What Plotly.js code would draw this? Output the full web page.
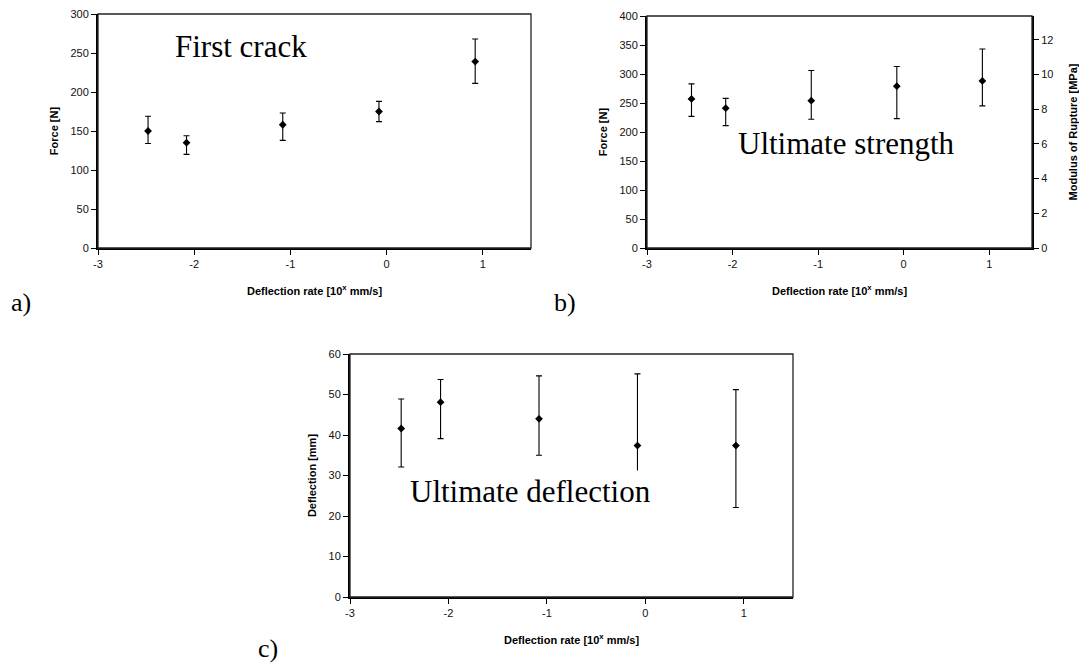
<!DOCTYPE html>
<html>
<head>
<meta charset="utf-8">
<script src="https://cdn.plot.ly/plotly-3.0.1.min.js"></script>
<style>html,body{margin:0;padding:0;background:#fff;}#chart{width:1079px;height:664px;}</style>
</head>
<body>
<div id="chart"></div>
<script>
// Deflection rate (log10 of mm/s)
var rate = [-2.48, -2.08, -1.08, -0.08, 0.92];
var xTicks = [-3, -2, -1, 0, 1];
var xTickLabels = ['-3', '-2', '-1', '0', '1'];

// a) First crack force [N]
var crackForce = [150, 135, 158, 175, 239];
var crackUpper = [169, 144, 173, 188, 268];
var crackLower = [134, 120, 138, 162, 211];

// b) Ultimate strength force [N]
var ultForce = [257, 241, 254, 279, 288];
var ultUpper = [283, 258, 306, 313, 343];
var ultLower = [227, 211, 222, 223, 245];

// c) Ultimate deflection [mm]
var ultDefl = [41.6, 48.1, 44.0, 37.4, 37.4];
var deflUpper = [48.9, 53.7, 54.6, 55.1, 51.2];
var deflLower = [32.1, 39.1, 35.0, 22.0, 22.1];

function diff(a, b) { return a.map(function (v, i) { return +(v - b[i]).toFixed(3); }); }

function trace(y, up, lo, xa, ya) {
  return {
    x: rate, y: y, xaxis: xa, yaxis: ya, type: 'scatter', mode: 'markers',
    marker: {symbol: 'diamond', size: 6, color: '#000'},
    error_y: {type: 'data', symmetric: false, array: diff(up, y), arrayminus: diff(y, lo),
              color: '#000', thickness: 1.1, width: 3},
    hoverinfo: 'x+y', showlegend: false
  };
}

var tickFont = {family: 'Liberation Sans, Arial, sans-serif', size: 11, color: '#111'};
var titleFont = {family: 'Liberation Sans, Arial, sans-serif', size: 11, color: '#000'};
var xTitle = '<b>Deflection rate [10<sup>x</sup> mm/s]</b>';

function xAxis(dom, anchor) {
  return {domain: dom, anchor: anchor, range: [-3, 1.5], tickmode: 'array', tickvals: xTicks, ticktext: xTickLabels,
    ticks: 'outside', ticklen: 5, tickwidth: 1, tickcolor: '#000', showline: true, linewidth: 2, linecolor: '#000',
    showgrid: false, zeroline: false, tickfont: tickFont,
    title: {text: xTitle, font: titleFont, standoff: 18}};
}
function yAxis(dom, anchor, range, dtick, title) {
  return {domain: dom, anchor: anchor, range: range, dtick: dtick, tick0: 0,
    ticks: 'outside', ticklen: 5, tickwidth: 1, tickcolor: '#000', showline: true, linewidth: 2, linecolor: '#000',
    showgrid: false, zeroline: false, tickfont: tickFont,
    title: {text: '<b>' + title + '</b>', font: titleFont, standoff: 10}};
}

var dA = {x: [98/1079, 531/1079], y: [1 - 248/664, 1 - 14/664]};
var dB = {x: [647/1079, 1032/1079], y: [1 - 248/664, 1 - 16/664]};
var dC = {x: [350/1079, 793/1079], y: [1 - 597/664, 1 - 354/664]};

var data = [
  trace(crackForce, crackUpper, crackLower, 'x', 'y'),
  trace(ultForce, ultUpper, ultLower, 'x2', 'y2'),
  trace(ultDefl, deflUpper, deflLower, 'x3', 'y3')
];

var y4 = {domain: dB.y, anchor: 'x2', overlaying: 'y2', side: 'right', range: [0, 13.38], tickmode: 'array',
  tickvals: [0, 2, 4, 6, 8, 10, 12], ticks: 'outside', ticklen: 5, tickwidth: 1, tickcolor: '#000',
  showline: true, linewidth: 2, linecolor: '#000', showgrid: false, zeroline: false, tickfont: tickFont,
  title: {text: '<b>Modulus of Rupture [MPa]</b>', font: titleFont, standoff: 24}};
var dummy = {x: [0], y: [0], xaxis: 'x2', yaxis: 'y4', mode: 'markers', marker: {opacity: 0}, showlegend: false, hoverinfo: 'skip'};
data.push(dummy);

function frame(d) {
  return {type: 'rect', xref: 'paper', yref: 'paper', x0: d.x[0], x1: d.x[1], y0: d.y[0], y1: d.y[1],
          line: {color: '#222', width: 1.3}, layer: 'above'};
}

var serif = {family: 'Liberation Serif, Times New Roman, serif', size: 31, color: '#000'};
var labelFont = {family: 'Liberation Serif, Times New Roman, serif', size: 26, color: '#000'};

var layout = {
  width: 1079, height: 664, margin: {l: 0, r: 0, t: 0, b: 0},
  paper_bgcolor: '#fff', plot_bgcolor: '#fff', showlegend: false,
  xaxis: xAxis(dA.x, 'y'), yaxis: yAxis(dA.y, 'x', [0, 300], 50, 'Force [N]'),
  xaxis2: xAxis(dB.x, 'y2'), yaxis2: yAxis(dB.y, 'x2', [0, 400], 50, 'Force [N]'),
  xaxis3: xAxis(dC.x, 'y3'), yaxis3: yAxis(dC.y, 'x3', [0, 60], 10, 'Deflection [mm]'),
  yaxis4: y4,
  shapes: [frame(dA), frame(dB), frame(dC)],
  annotations: [
    {text: 'First crack', xref: 'paper', yref: 'paper', x: 241/1079, y: 1 - 47/664, xanchor: 'center', yanchor: 'middle', showarrow: false, font: serif},
    {text: 'Ultimate strength', xref: 'paper', yref: 'paper', x: 846/1079, y: 1 - 143/664, xanchor: 'center', yanchor: 'middle', showarrow: false, font: serif},
    {text: 'Ultimate deflection', xref: 'paper', yref: 'paper', x: 530/1079, y: 1 - 491/664, xanchor: 'center', yanchor: 'middle', showarrow: false, font: serif, bgcolor: '#fff', borderpad: 3},
    {text: 'a)', xref: 'paper', yref: 'paper', x: 21/1079, y: 1 - 302/664, xanchor: 'center', yanchor: 'middle', showarrow: false, font: labelFont},
    {text: 'b)', xref: 'paper', yref: 'paper', x: 565/1079, y: 1 - 302/664, xanchor: 'center', yanchor: 'middle', showarrow: false, font: labelFont},
    {text: 'c)', xref: 'paper', yref: 'paper', x: 268/1079, y: 1 - 648/664, xanchor: 'center', yanchor: 'middle', showarrow: false, font: labelFont}
  ]
};

Plotly.newPlot('chart', data, layout, {displayModeBar: false, staticPlot: true});
</script>
</body>
</html>
